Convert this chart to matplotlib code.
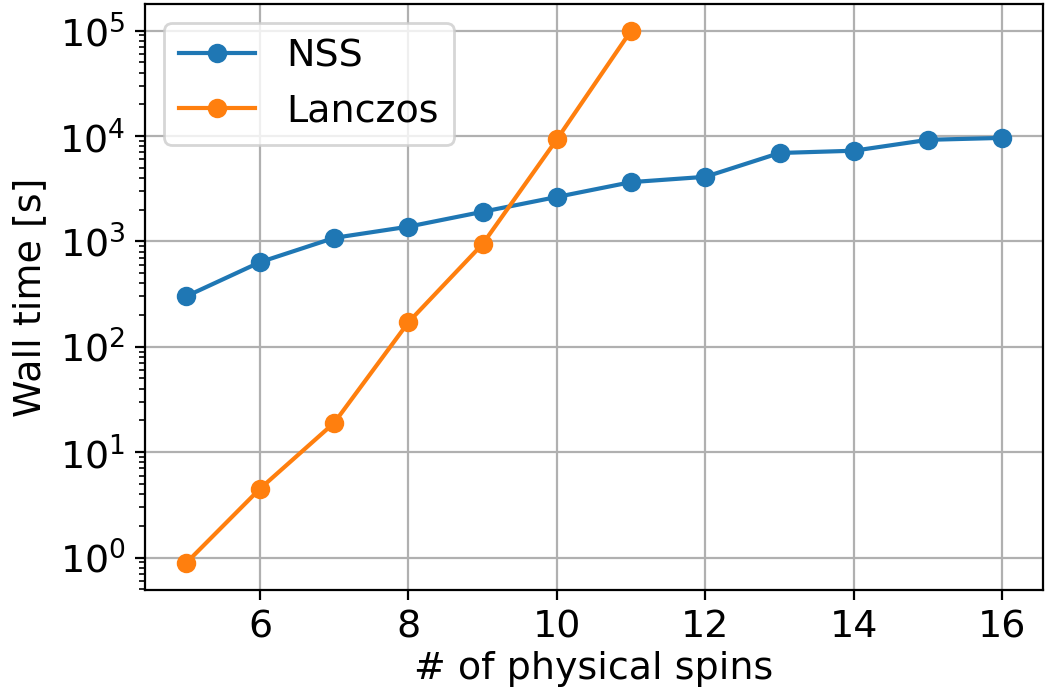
import matplotlib
matplotlib.use("Agg")
from matplotlib import pyplot as plt

spins_nss = [5, 6, 7, 8, 9, 10, 11, 12, 13, 14, 15, 16]
time_nss = [300, 635, 1080, 1380, 1910, 2640, 3650, 4100, 6900, 7250, 9200, 9600]

spins_lanczos = [5, 6, 7, 8, 9, 10, 11]
time_lanczos = [0.88, 4.5, 19, 171, 945, 9300, 100000]

plt.rcParams['font.size'] = 13.7

fig, ax = plt.subplots(figsize=(5.245, 3.475), dpi=200)
fig.subplots_adjust(left=145/1049, right=1043/1049, top=1-4/695, bottom=1-590/695)

ax.plot(spins_nss, time_nss, 'o-', label='NSS')
ax.plot(spins_lanczos, time_lanczos, 'o-', label='Lanczos')
ax.set_yscale('log')
ax.grid(True)

ax.set_xlabel('# of physical spins', labelpad=2)
ax.set_ylabel('Wall time [s]')
ax.legend(loc='upper left')

fig.savefig('out.png', dpi=200)
